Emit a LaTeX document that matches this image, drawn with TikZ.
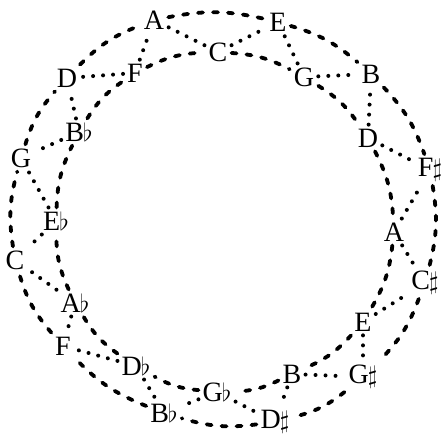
\documentclass[tikz,border=0pt]{standalone}
\usepackage{fontspec}
\setmainfont{Liberation Serif}
\usetikzlibrary{positioning}

\begin{document}
\begin{tikzpicture}[x=1pt,y=1pt,
  note/.style={inner sep=4pt,font=\fontsize{28}{28}\selectfont},
  ring/.style={line width=3.8pt,line cap=round,dash pattern=on 5pt off 10pt},
  link/.style={line width=4pt,line cap=round,dash pattern=on 0pt off 10pt}]
\useasboundingbox (0,0) rectangle (445,437);
% outer circle of keys
\node[note] (oA)  at (154,417) {A};
\node[note] (oE)  at (278,415) {E};
\node[note] (oB)  at (371,363) {B};
\node[note] (oFs) at (430,267) {F\kern-1pt$\sharp$};
\node[note] (oCs) at (425,154) {C\kern-1pt$\sharp$};
\node[note] (oGs) at (363,60)  {G\kern-1pt$\sharp$};
\node[note] (oDs) at (275,15)  {D\kern-1pt$\sharp$};
\node[note] (oBb) at (164,24)  {B\kern-1pt$\flat$};
\node[note] (oF)  at (63,91)   {F};
\node[note] (oC)  at (15,177)  {C};
\node[note] (oG)  at (21,279)  {G};
\node[note] (oD)  at (67,359)  {D};
% inner circle
\node[note] (iC)  at (218,385) {C};
\node[note] (iG)  at (304,360) {G};
\node[note] (iD)  at (368,299) {D};
\node[note] (iA)  at (394,205) {A};
\node[note] (iE)  at (363,115) {E};
\node[note] (iB)  at (292,63)  {B};
\node[note] (iGb) at (217,45)  {G\kern-1pt$\flat$};
\node[note] (iDb) at (136,71)  {D\kern-1pt$\flat$};
\node[note] (iAb) at (75,134)  {A\kern-1pt$\flat$};
\node[note] (iEb) at (56,216)  {E\kern-1pt$\flat$};
\node[note] (iBb) at (79,305)  {B\kern-1pt$\flat$};
\node[note] (iF)  at (135,364) {F};
% rings
\foreach \a/\b in {oA/oE,oE/oB,oB/oFs,oFs/oCs,oCs/oGs,oGs/oDs,oDs/oBb,oBb/oF,oF/oC,oC/oG,oG/oD,oD/oA}
  \draw[ring] (\a) to[bend left=12] (\b);
\foreach \a/\b in {iC/iG,iG/iD,iD/iA,iA/iE,iE/iB,iB/iGb,iGb/iDb,iDb/iAb,iAb/iEb,iEb/iBb,iBb/iF,iF/iC}
  \draw[ring] (\a) to[bend left=12] (\b);
% links between the circles
\foreach \i/\a/\b in {iC/oA/oE,iG/oE/oB,iD/oB/oFs,iA/oFs/oCs,iE/oCs/oGs,iB/oGs/oDs,iGb/oDs/oBb,iDb/oBb/oF,iAb/oF/oC,iEb/oC/oG,iBb/oG/oD,iF/oD/oA}
  {\draw[link] (\i) -- (\a); \draw[link] (\i) -- (\b);}
\end{tikzpicture}
\end{document}
